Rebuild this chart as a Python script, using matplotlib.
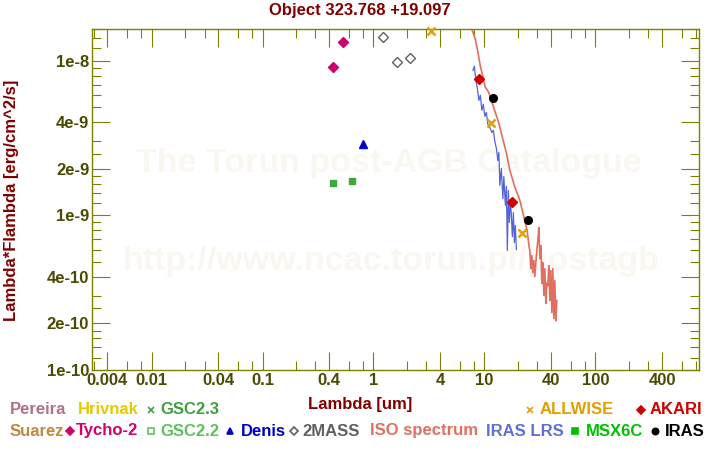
import numpy as np
import matplotlib
matplotlib.use('Agg')
import matplotlib.pyplot as plt
from matplotlib.lines import Line2D
from matplotlib.ticker import FixedLocator, NullFormatter

plt.rcParams['font.family'] = ['Liberation Sans', 'DejaVu Sans']
plt.rcParams['font.weight'] = 'bold'

# photometry (wavelength um, lambda*F_lambda erg/cm^2/s)
tycho_wl = [0.43, 0.53]
tycho_f = [9.05e-9, 1.31e-8]
gsc22_wl = [0.43, 0.64]
gsc22_f = [1.62e-9, 1.67e-9]
denis_wl = [0.80]
denis_f = [2.87e-9]
tmass_wl = [1.22, 1.64, 2.14]
tmass_f = [1.41e-8, 9.8e-9, 1.045e-8]
allwise_wl = [3.31, 11.4, 21.9]
allwise_f = [1.56e-8, 3.93e-9, 7.7e-10]
akari_wl = [8.9, 17.7]
akari_f = [7.65e-9, 1.22e-9]
iras_wl = [12.0, 24.8]
iras_f = [5.76e-9, 9.35e-10]

# ISO spectrum
iso_wl = [7.5, 7.71, 8.25, 8.73, 9.16, 9.62, 10.16, 10.9, 11.67, 12.5, 13.41,
          14.76, 15.84, 16.96, 18.82, 20.87, 22.35, 24.28, 25.3,
          25.68, 26.22, 26.77, 27.33, 27.90, 28.49, 29.08, 29.69, 30.32, 30.95,
          31.60, 32.26, 32.93, 33.62, 34.33, 35.05, 35.79, 36.54, 37.30, 38.08,
          38.88, 39.70, 40.53, 41.38, 42.25, 43.13, 44.06, 44.98]
iso_f = [1.75e-8, 1.595e-8, 1.388e-8, 1.137e-8, 9.32e-9, 8.03e-9, 6.75e-9, 6.26e-9,
         5.40e-9, 4.65e-9, 4.0e-9, 3.05e-9, 2.50e-9, 1.95e-9, 1.52e-9, 1.25e-9,
         1.02e-9, 7.97e-10, 6.22e-10,
         5.92e-10, 4.52e-10, 5.49e-10, 4.26e-10, 5.10e-10, 4.02e-10, 4.95e-10,
         5.92e-10, 6.87e-10, 8.34e-10, 5.25e-10, 6.37e-10, 3.62e-10, 4.95e-10,
         3.03e-10, 4.52e-10, 2.69e-10, 3.65e-10, 3.51e-10, 4.73e-10, 2.81e-10,
         4.39e-10, 2.35e-10, 4.52e-10, 2.15e-10, 3.78e-10, 2.08e-10, 2.81e-10]

# IRAS LRS spectrum
lrs_wl = [7.87, 8.12, 8.37, 8.64, 8.91, 9.19, 9.48, 9.78, 10.09, 10.41, 10.74,
          11.20, 11.67, 12.04, 12.42, 12.82, 13.22, 13.50, 13.78, 14.21, 14.67,
          14.97, 15.45, 15.77, 16.10, 16.44, 16.79, 17.14, 17.50, 17.86, 18.24,
          18.62, 19.01, 19.41]
lrs_f = [8.65e-9, 9.19e-9, 7.45e-9, 6.62e-9, 5.53e-9, 5.96e-9, 4.77e-9, 5.22e-9,
         4.36e-9, 4.63e-9, 3.87e-9, 3.70e-9, 3.43e-9, 3.54e-9, 3.00e-9, 2.71e-9,
         2.26e-9, 2.55e-9, 1.56e-9, 2.01e-9, 1.28e-9, 1.78e-9, 1.16e-9, 1.54e-9,
         5.92e-10, 1.45e-9, 8.98e-10, 1.25e-9, 9.97e-10, 7.29e-10, 1.04e-9,
         6.67e-10, 8.59e-10, 6.01e-10]

xticks = [0.004, 0.01, 0.04, 0.1, 0.4, 1, 4, 10, 40, 100, 400]
xticklabels = ['0.004', '0.01', '0.04', '0.1', '0.4', '1', '4', '10', '40', '100', '400']
yticks = [1e-10, 2e-10, 4e-10, 1e-9, 2e-9, 4e-9, 1e-8]
yticklabels = ['1e-10', '2e-10', '4e-10', '1e-9', '2e-9', '4e-9', '1e-8']

olive = '#808000'
dark = '#800000'

fig = plt.figure(figsize=(7.2, 4.5), dpi=100)
ax = fig.add_axes([92/720, 1-370/450, 607/720, 341/450])

# faint watermark
ax.text(0.489, 0.607, 'The Torun post-AGB Catalogue', transform=ax.transAxes,
        ha='center', va='center', fontsize=24.5, color='#faf7f1', zorder=0)
ax.text(0.493, 0.317, 'http://www.ncac.torun.pl/postagb', transform=ax.transAxes,
        ha='center', va='center', fontsize=24.5, color='#faf7f1', zorder=0)

ax.plot(iso_wl, iso_f, color='#e07060', lw=1.2, zorder=2)
ax.plot(lrs_wl, lrs_f, color='#5565d5', lw=0.9, zorder=2)

ax.plot(tycho_wl, tycho_f, 'D', color='#d0006c', ms=5, zorder=3)
ax.plot(gsc22_wl, gsc22_f, 's', color='#40a840', ms=5, zorder=3)
ax.plot(denis_wl, denis_f, '^', color='#0000cc', ms=6, zorder=3)
ax.plot(tmass_wl, tmass_f, 'D', mfc='none', mec='#606060', mew=1, ms=5, zorder=3)
ax.plot(allwise_wl, allwise_f, 'x', color='#e0a000', mew=1.8, ms=5.5, zorder=3,
        clip_on=False)
ax.plot(akari_wl, akari_f, 'D', color='#d00000', ms=5.5, zorder=3)
ax.plot(iras_wl, iras_f, 'o', color='black', ms=5.5, zorder=3)

ax.set_xscale('log')
ax.set_yscale('log')
ax.set_xlim(0.0029, 860)
ax.set_ylim(1e-10, 1.6e-8)

ax.xaxis.set_major_locator(FixedLocator(xticks))
ax.set_xticklabels(xticklabels)
xminor = [m * 10.0**e for e in range(-3, 3) for m in (2, 3, 6, 8)]
ax.xaxis.set_minor_locator(FixedLocator(xminor))
ax.xaxis.set_minor_formatter(NullFormatter())

ax.yaxis.set_major_locator(FixedLocator(yticks))
ax.set_yticklabels(yticklabels)
yminor = [m * 10.0**e for e in range(-10, -7) for m in (1.2, 1.4, 1.6, 1.8, 2.5, 3, 5, 6, 7, 8, 9)]
ax.yaxis.set_minor_locator(FixedLocator(yminor))
ax.yaxis.set_minor_formatter(NullFormatter())

ax.tick_params(which='both', direction='in', top=True, right=True, color=olive,
               width=0.8, labelcolor='#4a4a00', labelsize=12, pad=2)
ax.tick_params(which='major', length=13)
ax.tick_params(which='minor', length=6.5)
for lab in ax.get_xticklabels() + ax.get_yticklabels():
    lab.set_fontweight('bold')
for sp in ax.spines.values():
    sp.set_color(olive)
    sp.set_linewidth(1)

fig.text(0.5, 1-11/450, 'Object 323.768 +19.097', ha='center', va='center',
         fontsize=12, color=dark, fontweight='bold')
fig.text(0.5, 1-404/450, 'Lambda [um]', ha='center', va='center',
         fontsize=12, color=dark, fontweight='bold')
fig.text(12/720, 1-200/450, 'Lambda*Flambda [erg/cm^2/s]', ha='center', va='center',
         rotation=90, fontsize=12, color=dark, fontweight='bold')

# legend under the plot
def leg_text(x, y, s, c):
    fig.text(x/720, 1-y/450, s, ha='left', va='center', fontsize=12,
             color=c, fontweight='bold')

def leg_mark(x, y, m, c, ms=4.5, filled=True):
    fig.add_artist(Line2D([x/720], [1-y/450], marker=m, ms=ms,
                          color=c, mfc=c if filled else 'none', mec=c,
                          mew=1.2, transform=fig.transFigure))

r1, r2 = 410, 431
leg_text(10, r1, 'Pereira', '#b07090')
leg_text(78, r1, 'Hrivnak', '#e8c800')
leg_mark(151, r1, 'x', '#40a040')
leg_text(160, r1, 'GSC2.3', '#40a040')
leg_mark(530, r1, 'x', '#e0a000')
leg_text(540, r1, 'ALLWISE', '#e0a000')
leg_mark(641, r1, 'D', '#d00000', ms=4)
leg_text(650, r1, 'AKARI', '#d00000')

leg_text(10, r2, 'Suarez', '#c08840')
leg_mark(70, r2, 'D', '#d0006c', ms=4)
leg_text(76, r2, 'Tycho-2', '#d0006c')
leg_mark(151, r2, 's', '#60c060', ms=4, filled=False)
leg_text(160, r2, 'GSC2.2', '#60c060')
leg_mark(230, r2, '^', '#0000cc', ms=5)
leg_text(241, r2, 'Denis', '#0000cc')
leg_mark(294, r2, 'D', '#606060', ms=4, filled=False)
leg_text(302, r2, '2MASS', '#606060')
leg_text(370, r2, 'ISO spectrum', '#e07060')
leg_text(486, r2, 'IRAS LRS', '#6070d8')
leg_mark(575, r2, 's', '#00c000', ms=5)
leg_text(586, r2, 'MSX6C', '#00c000')
leg_mark(655, r2, 'o', 'black', ms=4.5)
leg_text(665, r2, 'IRAS', 'black')

plt.savefig('out.png', dpi=100)
